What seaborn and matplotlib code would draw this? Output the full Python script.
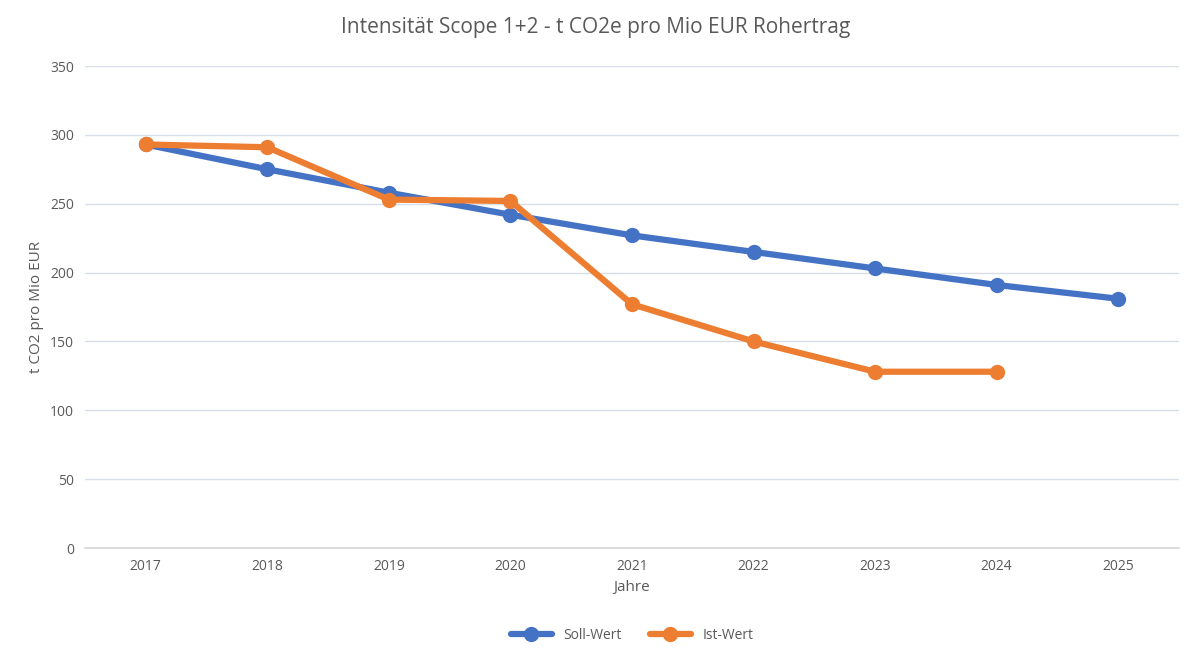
import matplotlib
matplotlib.use("Agg")
import matplotlib.pyplot as plt
import seaborn as sns
import pandas as pd

years = ["2017","2018","2019","2020","2021","2022","2023","2024","2025"]
soll = [293, 275, 258, 242, 227, 215, 203, 191, 181]
ist_years = ["2017","2018","2019","2020","2021","2022","2023","2024"]
ist = [293, 291, 253, 252, 177, 150, 128, 128]

sns.set_theme(style="white")
plt.rcParams['font.family'] = ['Open Sans', 'DejaVu Sans']
gray = "#595959"

fig = plt.figure(figsize=(11.92, 6.63), dpi=100)
ax = fig.add_axes([85/1192, 1-548/663, (1179-85)/1192, (548-66)/663])

df1 = pd.DataFrame({"x": range(len(years)), "y": soll})
df2 = pd.DataFrame({"x": range(len(ist_years)), "y": ist})
sns.lineplot(data=df1, x="x", y="y", ax=ax, color="#4472C4", lw=4.5, marker="o",
             markersize=11, markeredgewidth=0, label="Soll-Wert")
sns.lineplot(data=df2, x="x", y="y", ax=ax, color="#ED7D31", lw=4.5, marker="o",
             markersize=11, markeredgewidth=0, label="Ist-Wert")

ax.set_xlim(-0.5, len(years)-0.5)
ax.set_ylim(0, 350)
ax.set_yticks(range(0, 351, 50))
ax.set_xticks(range(len(years)))
ax.set_xticklabels(years)
ax.grid(axis="y", color="#D9DFEA", lw=1)
ax.set_axisbelow(True)
for s in ["top", "right", "left"]:
    ax.spines[s].set_visible(False)
ax.spines["bottom"].set_color("#D9D9D9")
ax.tick_params(colors=gray, labelsize=10, length=0, pad=8)
ax.set_xlabel("Jahre", color=gray, fontsize=11)
ax.set_ylabel("t CO2 pro Mio EUR", color=gray, fontsize=11)
fig.suptitle("Intensität Scope 1+2 - t CO2e pro Mio EUR Rohertrag", color=gray,
             fontsize=15, y=0.975)
ax.legend(loc="upper center", bbox_to_anchor=(0.5, -0.14), ncol=2, frameon=False,
          fontsize=10, labelcolor=gray, handlelength=3)
fig.savefig("out.png", dpi=100)
